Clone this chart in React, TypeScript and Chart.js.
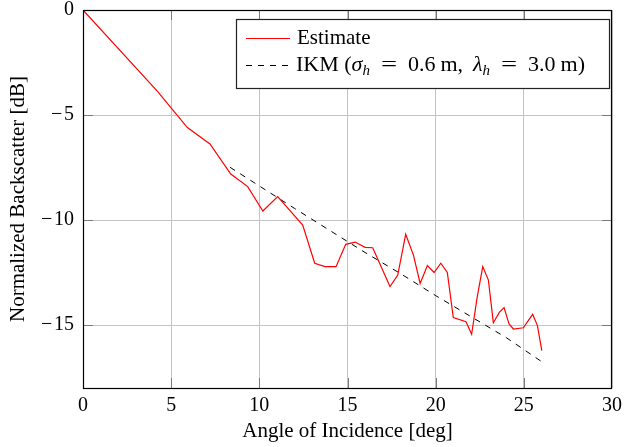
import React, { useEffect, useRef } from "react";
import { Chart, registerables } from "chart.js";

Chart.register(...registerables);

const estimateAngle = [0, 4.2, 5.92, 7.2, 8.38, 9.34, 10.2, 11.04, 12.46, 13.14, 13.73, 14.35, 14.9, 15.43, 16.0, 16.43, 17.41, 17.85, 18.3, 18.74, 19.12, 19.53, 19.91, 20.29, 20.66, 21.0, 21.72, 22.04, 22.36, 22.67, 22.99, 23.27, 23.61, 23.88, 24.16, 24.41, 24.97, 25.5, 25.77, 26.02];
const estimateDb = [0, -3.85, -5.6, -6.38, -7.81, -8.41, -9.57, -8.89, -10.24, -12.06, -12.22, -12.22, -11.16, -11.05, -11.3, -11.32, -13.17, -12.62, -10.68, -11.67, -13.02, -12.17, -12.5, -12.06, -12.5, -14.65, -14.84, -15.44, -13.65, -12.22, -12.86, -14.89, -14.4, -14.17, -14.95, -15.19, -15.13, -14.49, -15.03, -16.22];

const ikmAngle = [8.34, 10, 12, 14, 16, 18, 20, 22, 24, 26.02];
const ikmDb = [-7.49, -8.38, -9.45, -10.5, -11.55, -12.55, -13.6, -14.6, -15.6, -16.75];

const xTicks = [0, 5, 10, 15, 20, 25, 30];
const yTicks = [-15, -10, -5, 0];

const FONT = "'Liberation Serif', 'Times New Roman', serif";
const FS = 20;
const TFS = 21;
const LFS = 22;

const framePlugin = {
  id: "frame",
  afterDatasetsDraw(chart: any) {
    const { ctx, chartArea: a, scales } = chart;
    ctx.save();
    ctx.strokeStyle = "#7a7a7a";
    ctx.lineWidth = 1;
    const L = 10;
    ctx.beginPath();
    for (const v of xTicks) {
      if (v === 0 || v === 30) continue;
      const px = Math.round(scales.x.getPixelForValue(v)) + 0.5;
      ctx.moveTo(px, a.bottom);
      ctx.lineTo(px, a.bottom - L);
      ctx.moveTo(px, a.top);
      ctx.lineTo(px, a.top + L);
    }
    for (const v of yTicks) {
      if (v === 0) continue;
      const py = Math.round(scales.y.getPixelForValue(v)) + 0.5;
      ctx.moveTo(a.left, py);
      ctx.lineTo(a.left + L, py);
      ctx.moveTo(a.right, py);
      ctx.lineTo(a.right - L, py);
    }
    ctx.stroke();
    ctx.strokeStyle = "#000";
    ctx.lineWidth = 1.2;
    ctx.strokeRect(Math.round(a.left) + 0.5, Math.round(a.top) + 0.5, Math.round(a.right - a.left) - 1, Math.round(a.bottom - a.top));
    ctx.restore();
  },
  afterDraw(chart: any) {
    const { ctx } = chart;
    ctx.save();
    const bx = 236, by = 19, bw = 373, bh = 69;
    ctx.fillStyle = "#fff";
    ctx.fillRect(bx, by, bw, bh);
    ctx.strokeStyle = "#222";
    ctx.lineWidth = 1.2;
    ctx.strokeRect(bx + 0.5, by + 0.5, bw, bh);
    ctx.strokeStyle = "#ff0000";
    ctx.lineWidth = 1.2;
    ctx.beginPath();
    ctx.moveTo(246, 38.5);
    ctx.lineTo(290, 38.5);
    ctx.stroke();
    ctx.strokeStyle = "#000";
    ctx.lineWidth = 1;
    ctx.setLineDash([6, 6]);
    ctx.beginPath();
    ctx.moveTo(246, 65.5);
    ctx.lineTo(290, 65.5);
    ctx.stroke();
    ctx.setLineDash([]);
    ctx.fillStyle = "#000";
    ctx.textBaseline = "alphabetic";
    ctx.textAlign = "left";
    ctx.font = `${TFS}px ${FONT}`;
    ctx.fillText("Estimate", 297, 44);
    type Part = { t: string; it?: boolean; sub?: boolean; sx?: number; gap?: "thin" | "thick" | "space" };
    const parts: Part[] = [
      { t: "IKM (" },
      { t: "σ", it: true },
      { t: "h", it: true, sub: true, gap: "thick" },
      { t: "=", sx: 1.3, gap: "thick" },
      { t: "0.6", gap: "thin" },
      { t: "m,", gap: "space" },
      { t: "λ", it: true },
      { t: "h", it: true, sub: true, gap: "thick" },
      { t: "=", sx: 1.3, gap: "thick" },
      { t: "3.0", gap: "thin" },
      { t: "m)" },
    ];
    const fontOf = (p: Part) => `${p.it ? "italic " : ""}${p.sub ? 15 : LFS}px ${FONT}`;
    let natural = 0;
    for (const p of parts) {
      ctx.font = fontOf(p);
      natural += ctx.measureText(p.t).width * (p.sx || 1);
    }
    const x0 = 296, x1 = 585;
    const thin = 5, space = 10;
    const thick = Math.max(4, (x1 - x0 - natural - 2 * thin - space) / 4);
    let x = x0;
    for (const p of parts) {
      ctx.font = fontOf(p);
      const y = p.sub ? 75 : 71;
      const sx = p.sx || 1;
      if (sx !== 1) {
        ctx.save();
        ctx.translate(x, y);
        ctx.scale(sx, 1);
        ctx.fillText(p.t, 0, 0);
        ctx.restore();
      } else {
        ctx.fillText(p.t, x, y);
      }
      x += ctx.measureText(p.t).width * sx;
      if (p.gap === "thin") x += thin;
      else if (p.gap === "space") x += space;
      else if (p.gap === "thick") x += thick;
    }
    ctx.restore();
  },
};

export default function App() {
  const ref = useRef<HTMLCanvasElement | null>(null);
  useEffect(() => {
    document.body.style.margin = "0";
    document.body.style.overflow = "hidden";
    const canvas = ref.current!;
    const chart = new Chart(canvas, {
      type: "line",
      data: {
        datasets: [
          {
            label: "Estimate",
            data: estimateAngle.map((a, i) => ({ x: a, y: estimateDb[i] })),
            borderColor: "#ff0000",
            borderWidth: 1.2,
            pointRadius: 0,
            tension: 0,
            fill: false,
          },
          {
            label: "IKM",
            data: ikmAngle.map((a, i) => ({ x: a, y: ikmDb[i] })),
            borderColor: "#000",
            borderWidth: 1,
            borderDash: [6, 6],
            pointRadius: 0,
            tension: 0,
            fill: false,
          },
        ],
      },
      options: {
        responsive: false,
        animation: false,
        events: [],
        layout: { padding: { left: 0, top: 10, right: 12, bottom: 0 } },
        plugins: { legend: { display: false }, tooltip: { enabled: false } },
        scales: {
          x: {
            type: "linear",
            min: 0,
            max: 30,
            afterBuildTicks: (s: any) => {
              s.ticks = xTicks.map((v) => ({ value: v }));
            },
            afterFit: (s: any) => {
              s.height = 59;
              s.paddingLeft = 0;
              s.paddingRight = 0;
            },
            ticks: { color: "#000", font: { family: FONT, size: FS }, padding: 6, maxRotation: 0 },
            grid: { color: "#c4c4c4", lineWidth: 1, drawTicks: false },
            border: { display: false },
            title: { display: true, text: "Angle of Incidence [deg]", color: "#000", font: { family: FONT, size: TFS }, padding: { top: 0, bottom: 3 } },
          },
          y: {
            type: "linear",
            min: -18,
            max: 0,
            afterBuildTicks: (s: any) => {
              s.ticks = yTicks.map((v) => ({ value: v }));
            },
            afterFit: (s: any) => {
              s.width = 83;
              s.paddingTop = 0;
              s.paddingBottom = 0;
            },
            ticks: {
              color: "#000",
              font: { family: FONT, size: FS },
              padding: 9,
              callback: (v: any) => (Number(v) < 0 ? "\u2212\u200A" + Math.abs(Number(v)) : String(v)),
            },
            grid: { color: "#c4c4c4", lineWidth: 1, drawTicks: false },
            border: { display: false },
            title: { display: true, text: "Normalized Backscatter [dB]", color: "#000", font: { family: FONT, size: TFS }, padding: { top: 6, bottom: 0 } },
          },
        },
      },
      plugins: [framePlugin],
    } as any);
    return () => chart.destroy();
  }, []);
  return <canvas ref={ref} width={624} height={447} style={{ display: "block", width: 624, height: 447 }} />;
}
